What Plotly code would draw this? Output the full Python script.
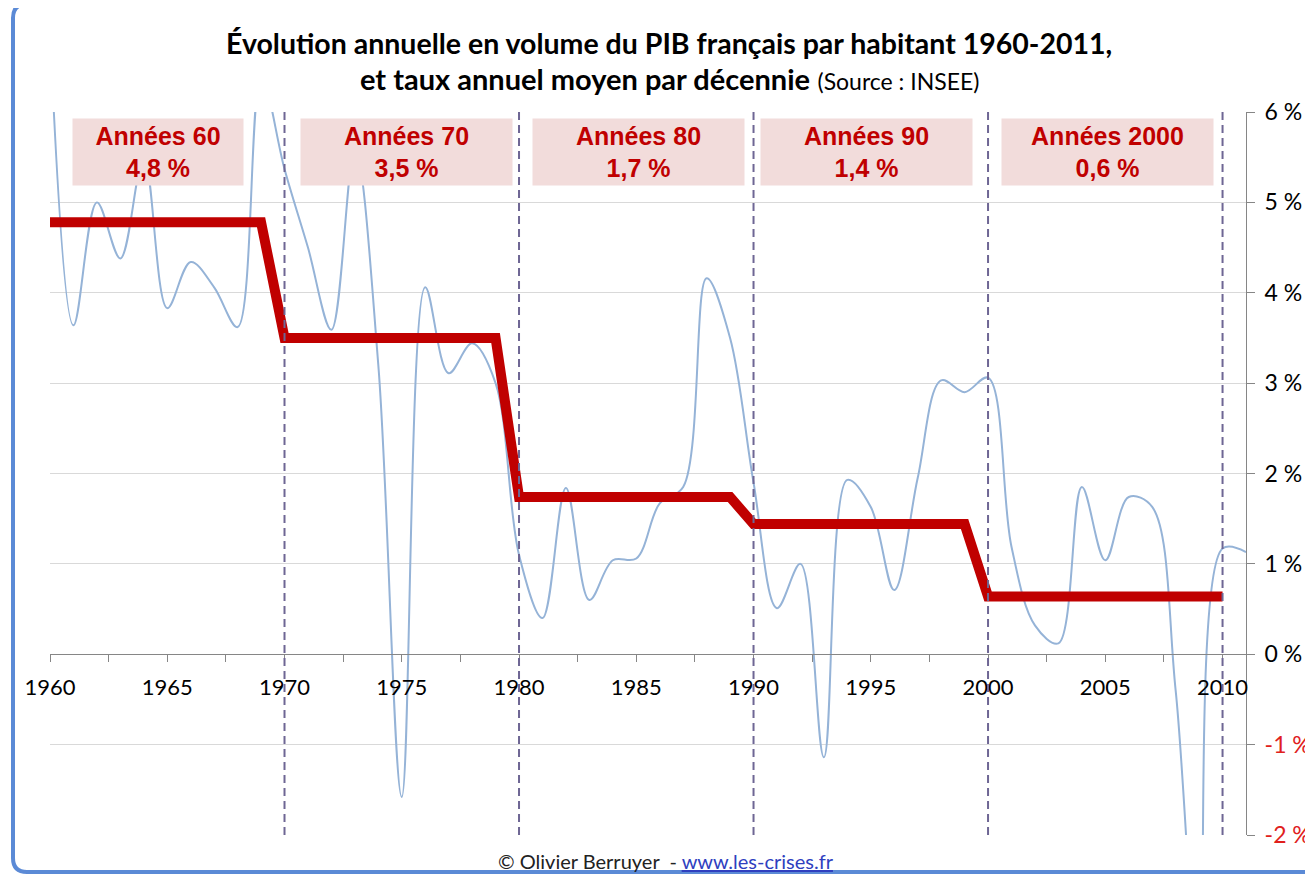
import plotly.graph_objects as go

# ---- data ----
years = list(range(1960, 2012))
growth = [6.9, 3.64, 5.0, 4.38, 5.5, 3.83, 4.34, 4.06, 3.62, 6.4,
          5.37, 4.5, 3.59, 5.6, 3.2, -1.58, 4.06, 3.11, 3.44, 3.0,
          1.1, 0.4, 1.84, 0.6, 1.04, 1.06, 1.67, 1.85, 4.16, 3.5,
          1.9, 0.51, 1.0, -1.14, 1.93, 1.63, 0.71, 1.95, 3.03, 2.9,
          3.06, 1.19, 0.32, 0.12, 1.85, 1.04, 1.74, 1.63, -0.4, -3.6,
          1.17, 1.13]

decade_starts = [1960, 1970, 1980, 1990, 2000]
decade_ends = [1969, 1979, 1989, 1999, 2010]
decade_avg = [4.78, 3.5, 1.74, 1.44, 0.64]
decade_labels = ["Années 60", "Années 70", "Années 80", "Années 90", "Années 2000"]
decade_lines = [1970, 1980, 1990, 2000, 2010]

x_tickvals = [1960, 1965, 1970, 1975, 1980, 1985, 1990, 1995, 2000, 2005, 2010]
y_tickvals = [-2, -1, 0, 1, 2, 3, 4, 5, 6]

# ---- geometry (page has an 8px body margin) ----
OFF = 8
W, H = 1313 - OFF, 877 - OFF
L, T = 50 - OFF, 112 - OFF
R = W - (1246 - OFF)
B = H - (835 - OFF)
PW, PH = W - L - R, H - T - B


def px_x(px):
    return (px - OFF - L) / PW


def px_y(py):
    return (H - B - (py - OFF)) / PH


fig = go.Figure()

# blue annual growth line
fig.add_trace(go.Scatter(
    x=years, y=growth, mode="lines",
    line=dict(shape="spline", smoothing=1, color="#95b3d7", width=2),
    hoverinfo="x+y", showlegend=False))

# red decade average step line
sx, sy = [], []
for s, e, v in zip(decade_starts, decade_ends, decade_avg):
    sx += [s, e]
    sy += [v, v]
fig.add_trace(go.Scatter(
    x=sx, y=sy, mode="lines",
    line=dict(color="#c00000", width=10),
    hoverinfo="x+y", showlegend=False))

shapes = []
for xv in decade_lines:
    shapes.append(dict(type="line", xref="x", yref="paper", x0=xv, x1=xv, y0=0, y1=1,
                       line=dict(color="#6e6694", width=2, dash="8px,5px"), layer="above"))

# outer rounded frame
x0, x1 = px_x(13), px_x(1340)
y0, y1 = px_y(872), px_y(4)
rx, ry = 14 / PW, 14 / PH
path = (f"M {x0+rx},{y1} L {x1-rx},{y1} Q {x1},{y1} {x1},{y1-ry} L {x1},{y0+ry} "
        f"Q {x1},{y0} {x1-rx},{y0} L {x0+rx},{y0} Q {x0},{y0} {x0},{y0+ry} "
        f"L {x0},{y1-ry} Q {x0},{y1} {x0+rx},{y1} Z")
shapes.append(dict(type="path", xref="paper", yref="paper", path=path,
                   line=dict(color="#5b8ad6", width=4), fillcolor="rgba(0,0,0,0)", layer="above"))

annotations = []
box_centers = [1964.6, 1975.2, 1985.1, 1994.8, 2005.1]
box_widths = [164, 205, 205, 205, 205]
for c, w, lab, v in zip(box_centers, box_widths, decade_labels, decade_avg):
    txt = f"{lab}<br>{v:.1f}".replace(".", ",") + " %"
    annotations.append(dict(
        x=c, y=5.56, xref="x", yref="y", text=txt, showarrow=False,
        bgcolor="#f2dcdb", width=w, height=60, borderpad=3,
        font=dict(family="Liberation Sans, Arial", size=25, color="#c00000", weight="bold"),
        align="center", valign="middle"))

annotations.append(dict(
    x=px_x(669), y=px_y(43), xref="paper", yref="paper", showarrow=False,
    text="<b>Évolution annuelle en volume du PIB français par habitant 1960-2011,</b>",
    font=dict(family="Lato", size=28.5, color="#000000"), xanchor="center", yanchor="middle"))
annotations.append(dict(
    x=px_x(669), y=px_y(79), xref="paper", yref="paper", showarrow=False,
    text="<b>et taux annuel moyen par décennie</b> <span style='font-size:23px'>(Source : INSEE)</span>",
    font=dict(family="Lato", size=29, color="#000000"), xanchor="center", yanchor="middle"))
annotations.append(dict(
    x=px_x(666), y=px_y(861), xref="paper", yref="paper", showarrow=False,
    text="© Olivier Berruyer  - <span style='color:#2f3fbf'><u>www.les-crises.fr</u></span>",
    font=dict(family="Lato", size=20, color="#222222"), xanchor="center", yanchor="middle"))

y_ticktext = [(f"<span style='color:#e0201c'>{v} %</span>" if v < 0 else f"{v} %") for v in y_tickvals]

fig.update_layout(
    width=W, height=H,
    margin=dict(l=L, r=R, t=T, b=B, pad=0, autoexpand=False),
    paper_bgcolor="white", plot_bgcolor="white",
    shapes=shapes, annotations=annotations,
    showlegend=False,
    xaxis=dict(range=[1960, 2011], tickvals=x_tickvals, ticktext=[str(v) for v in x_tickvals],
               anchor="free", position=0.25, showline=True, linecolor="#868686", linewidth=1,
               ticks="outside", ticklen=7, tickcolor="#868686", showgrid=False, zeroline=False,
               ticklabelstandoff=6, automargin=False,
               minor=dict(dtick=2.5, tick0=1960, ticks="outside", ticklen=7, tickcolor="#868686", showgrid=False),
               tickfont=dict(family="Lato", size=22, color="#000000")),
    yaxis=dict(range=[-2, 6], side="right", tickvals=y_tickvals, ticktext=y_ticktext,
               showline=True, linecolor="#868686", linewidth=1, ticks="outside", ticklen=8,
               tickcolor="#868686", showgrid=True, gridcolor="#d9d9d9", gridwidth=1, zeroline=False,
               ticklabelstandoff=5, automargin=False,
               tickfont=dict(family="Lato", size=23, color="#000000")),
)

fig.write_html("out.html")
